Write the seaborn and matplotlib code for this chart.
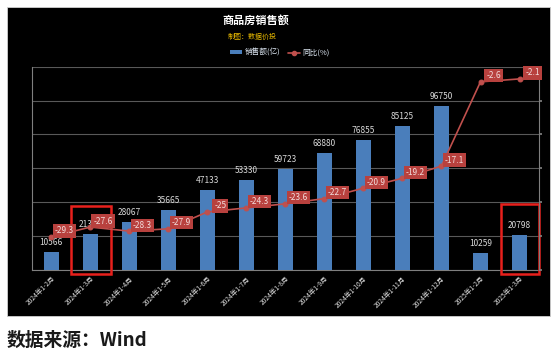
import numpy as np
import pandas as pd
import seaborn as sns
import matplotlib.pyplot as plt
from matplotlib.patches import Rectangle, Patch
from matplotlib.lines import Line2D

# 商品房销售额 (亿元) 及同比 (%)
months = ["2024年1-2月", "2024年1-3月", "2024年1-4月", "2024年1-5月", "2024年1-6月",
          "2024年1-7月", "2024年1-8月", "2024年1-9月", "2024年1-10月", "2024年1-11月",
          "2024年1-12月", "2025年1-2月", "2025年1-3月"]
sales = [10566, 21355, 28067, 35665, 47133, 53330, 59723, 68880, 76855, 85125, 96750, 10259, 20798]
yoy = [-29.3, -27.6, -28.3, -27.9, -25, -24.3, -23.6, -22.7, -20.9, -19.2, -17.1, -2.6, -2.1]

df = pd.DataFrame({"month": months, "sales": sales, "yoy": yoy})

sns.set_theme(style="dark")
plt.rcParams['font.family'] = ['Noto Sans CJK SC', 'DejaVu Sans']
plt.rcParams['axes.unicode_minus'] = False

bar_color = '#4a7ebb'
line_color = '#c0504d'

fig = plt.figure(figsize=(5.54, 3.53), dpi=100)
fig.patch.set_facecolor('white')
# 黑色背景面板
fig.patches.append(Rectangle((0.0132, 0.106), 0.9796, 0.875, transform=fig.transFigure,
                             facecolor='black', edgecolor='#d0d0d0', lw=0.6, zorder=-1))

ax = fig.add_axes([0.0572, 0.235, 0.9158, 0.576])
ax.set_facecolor('none')
sns.barplot(data=df, x="month", y="sales", color=bar_color, width=0.38,
            saturation=1.0, linewidth=0, edgecolor='none', ax=ax, zorder=3)
ax.set_ylim(0, 120000)
ax.set_xlim(-0.5, len(months) - 0.5)
ax.set_yticks(range(0, 120001, 20000))
ax.set_yticklabels([])
ax.grid(axis='y', color='#595959', lw=0.8)
ax.grid(axis='x', visible=False)
ax.set_xlabel("")
ax.set_ylabel("")
ax.tick_params(axis='x', colors='#7f7f7f', length=2, pad=1.5)
ax.tick_params(axis='y', length=0)
ax.set_xticks(range(len(months)))
ax.set_xticklabels(months, rotation=45, ha='right', rotation_mode='anchor',
                   fontsize=4.8, color='#e0e0e0')
for s in ['left', 'bottom']:
    ax.spines[s].set_color('#7f7f7f')
    ax.spines[s].set_linewidth(0.8)
for s in ['top', 'right']:
    ax.spines[s].set_visible(False)

for i, v in enumerate(sales):
    ax.annotate(str(v), xy=(i, v), xytext=(0, 5), textcoords='offset pixels',
                ha='center', va='bottom', fontsize=6, color='#d9d9d9', zorder=4)

# 同比折线 (右轴)
ax2 = ax.twinx()
sns.lineplot(x=np.arange(len(months)), y=yoy, ax=ax2, color=line_color, lw=1.2,
             marker='o', markersize=3.5, markeredgecolor=line_color, zorder=5)
ax2.set_ylim(-35, 0)
ax2.set_yticks(np.linspace(-35, 0, 7))
ax2.set_yticklabels([])
ax2.tick_params(axis='y', length=2, colors='#7f7f7f')
ax2.grid(False)
ax2.set_facecolor('none')
for s in ['left', 'bottom', 'top']:
    ax2.spines[s].set_visible(False)
ax2.spines['right'].set_color('#7f7f7f')
ax2.spines['right'].set_linewidth(0.8)

for i, v in enumerate(yoy):
    ax2.annotate(f"{v:g}", xy=(i, v), xytext=(13, 6), textcoords='offset pixels',
                 ha='center', va='center', fontsize=6, color='#f2dcdb', zorder=6,
                 bbox=dict(boxstyle='square,pad=0.25', fc='#b8413e', ec='none'))

# 红色标注框
for x0, x1, y1 in [(0.5, 1.53, 38000), (11.53, 12.5, 39000)]:
    ax.add_patch(Rectangle((x0, -2500), x1 - x0, y1 + 2500, fill=False,
                           edgecolor='#e8201c', lw=1.8, zorder=7, clip_on=False))

fig.text(0.462, 0.943, "商品房销售额", ha='center', va='center', fontsize=8,
         fontweight='bold', color='white')
fig.text(0.455, 0.895, "制图：数据价投", ha='center', va='center', fontsize=5,
         color='#e6b800')
handles = [Patch(facecolor=bar_color, edgecolor='none', label="销售额(亿)"),
           Line2D([0], [0], color=line_color, marker='o', markersize=3, lw=1.2, label="同比(%)")]
fig.legend(handles=handles, loc='center', bbox_to_anchor=(0.505, 0.85), ncol=2,
           frameon=False, fontsize=5.5, labelcolor='#dce6f2', handlelength=1.6,
           handleheight=0.5, columnspacing=1.0, handletextpad=0.3)

fig.text(0.012, 0.035, "数据来源：Wind", ha='left', va='center', fontsize=13.5,
         fontweight='bold', color='#1a1a1a')

fig.savefig("out.png", dpi=100)
